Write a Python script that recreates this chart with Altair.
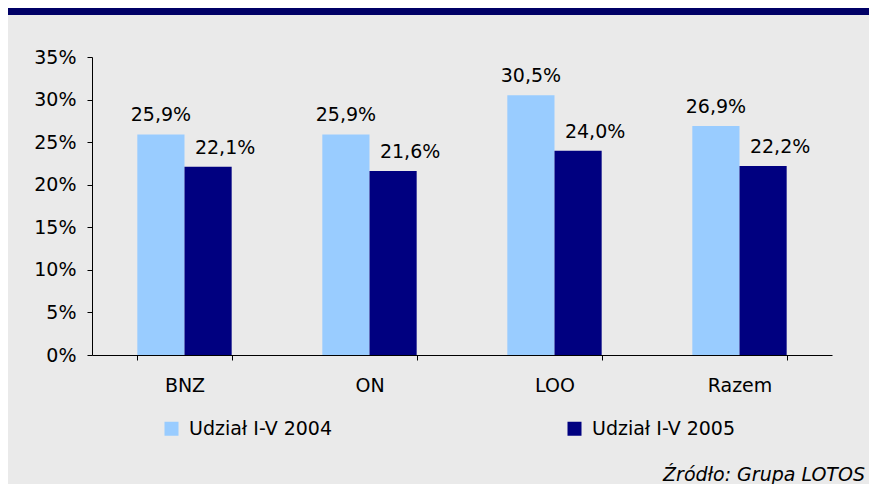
import altair as alt
import pandas as pd

categories = ["BNZ", "ON", "LOO", "Razem"]
series = ["Udział I-V 2004", "Udział I-V 2005"]
share_2004 = [25.9, 25.9, 30.5, 26.9]
share_2005 = [22.1, 21.6, 24.0, 22.2]
colors = ["#99ccff", "#000080"]
y_ticks = [0, 5, 10, 15, 20, 25, 30, 35]
source_text = ["Źródło: Grupa LOTOS"]

rows = []
for c, a, b in zip(categories, share_2004, share_2005):
    rows.append({"kat": c, "seria": series[0], "val": a})
    rows.append({"kat": c, "seria": series[1], "val": b})
df = pd.DataFrame(rows)

FONT = "DejaVu Sans"
FS = 19

xenc = alt.X(
    "kat:N", sort=categories,
    scale=alt.Scale(paddingInner=0.49, paddingOuter=0.245),
    axis=alt.Axis(title=None, labelAngle=0, tickBand="extent", domainColor="black",
                  tickColor="black", tickSize=5, labelPadding=16, labelFontSize=FS,
                  labelFont=FONT, labelColor="black", domainWidth=1, tickWidth=1),
)
yenc = alt.Y(
    "val:Q",
    scale=alt.Scale(domain=[0, 35], nice=False),
    axis=alt.Axis(title=None, values=y_ticks, labelExpr="datum.value + '%'", grid=False,
                  domainColor="black", tickColor="black", tickSize=5, labelPadding=11,
                  labelFontSize=FS, labelFont=FONT, labelColor="black", domainWidth=1, tickWidth=1),
)
xoff = alt.XOffset("seria:N", sort=series, scale=alt.Scale(paddingInner=0, paddingOuter=0))

base = alt.Chart(df)

bars = base.mark_bar().encode(
    x=xenc, xOffset=xoff, y=yenc,
    color=alt.Color(
        "seria:N", sort=series,
        scale=alt.Scale(domain=series, range=colors),
        legend=alt.Legend(title=None, orient="none", legendX=70, legendY=362,
                          direction="horizontal", symbolType="square", symbolSize=196,
                          symbolStrokeWidth=0, labelFontSize=FS, labelFont=FONT,
                          labelColor="black", columnPadding=232, labelOffset=8, padding=0),
    ),
)

lab = base.transform_calculate(lbl="replace(format(datum.val, '.1f'), '.', ',') + '%'")
t1 = lab.transform_filter(alt.datum.seria == series[0]).mark_text(
    baseline="alphabetic", dy=-13, fontSize=FS, font=FONT, color="black"
).encode(x=xenc, xOffset=xoff, y=yenc, text="lbl:N")
t2 = lab.transform_filter(alt.datum.seria == series[1]).mark_text(
    baseline="alphabetic", dy=-13, dx=17, fontSize=FS, font=FONT, color="black"
).encode(x=xenc, xOffset=xoff, y=yenc, text="lbl:N")

band = alt.Chart(pd.DataFrame({"k": [1]})).mark_rect(color="#000066").encode(
    x=alt.value(-84), x2=alt.value(777), y=alt.value(-49), y2=alt.value(-42)
)

src = alt.Chart(pd.DataFrame({"s": source_text})).mark_text(
    align="right", baseline="alphabetic", fontSize=FS, font=FONT, fontStyle="italic", color="black"
).encode(x=alt.value(773), y=alt.value(424), text="s:N")

chart = alt.layer(band, bars, t1, t2, src).properties(
    width=740, height=298,
    autosize=alt.AutoSizeParams(type="none"),
    padding={"left": 84, "top": 49, "right": 37, "bottom": 129},
    background="#eaeaea",
).configure_view(stroke=None)

chart.save("out.html", embed_options={"renderer": "svg", "actions": False})
